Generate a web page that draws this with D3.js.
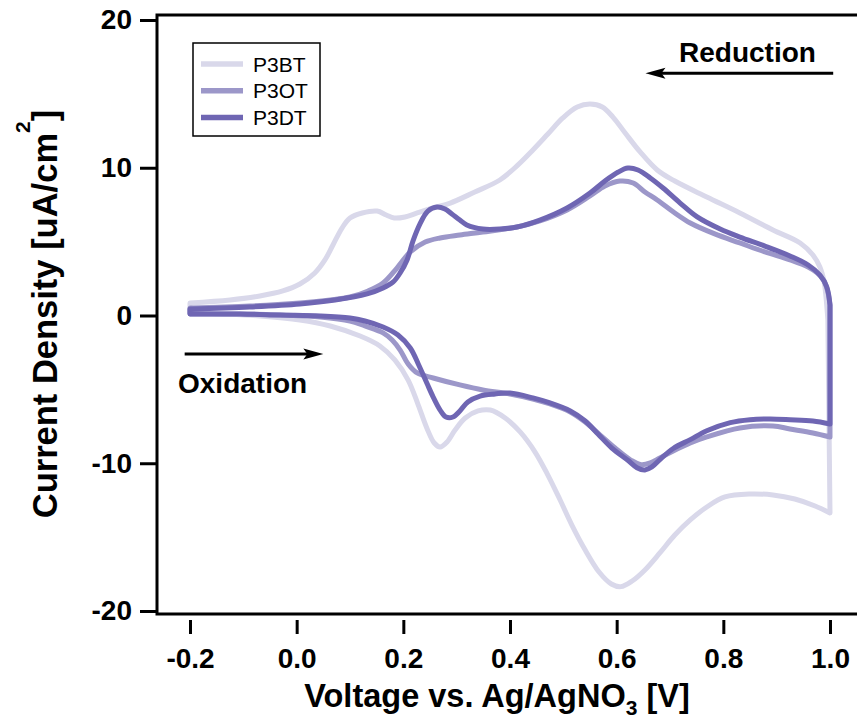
<!DOCTYPE html>
<html>
<head>
<meta charset="utf-8">
<script src="https://cdn.jsdelivr.net/npm/d3@7"></script>
<style>
  body { margin: 0; background: #fff; }
  svg { display: block; }
  text { font-family: "Liberation Sans", Arial, sans-serif; }
</style>
</head>
<body>
<svg id="chart" width="857" height="725"></svg>
<script>
// Cyclic voltammograms: current density [uA/cm^2] against voltage [V vs Ag/AgNO3]
const seriesNames = ["P3BT", "P3OT", "P3DT"];
const seriesColors = ["#d9d8ea", "#9c97c9", "#6f66b3"];
const xTicks = [-0.2, 0.0, 0.2, 0.4, 0.6, 0.8, 1.0];
const yTicks = [-20, -10, 0, 10, 20];

// Each scan: forward sweep (-0.2 -> 1.0 V) then reverse sweep (1.0 -> -0.2 V), as [V, I]
const p3btForward = [
  [-0.2, 0.85], [-0.125, 1.05], [-0.069, 1.32], [-0.026, 1.66], [0.006, 2.13], [0.034, 2.88],
  [0.053, 3.76], [0.068, 4.77], [0.085, 5.92], [0.1, 6.60], [0.123, 6.94], [0.151, 7.07],
  [0.168, 6.80], [0.183, 6.60], [0.203, 6.67], [0.226, 6.94], [0.256, 7.28], [0.288, 7.61],
  [0.334, 8.36], [0.381, 9.17], [0.415, 10.19], [0.443, 11.20], [0.471, 12.28], [0.499, 13.37],
  [0.526, 14.11], [0.55, 14.31], [0.573, 14.11], [0.593, 13.43], [0.616, 12.35], [0.644, 11.07],
  [0.676, 9.85], [0.709, 9.10], [0.769, 8.02], [0.831, 6.94], [0.893, 5.79], [0.944, 4.91],
  [0.968, 4.09], [0.981, 3.28], [0.989, 2.27], [0.993, 1.05], [0.996, -0.30]
];
const p3btReverse = [
  [1.0, -13.37], [0.972, -12.89], [0.934, -12.42], [0.893, -12.15], [0.85, -12.08], [0.803, -12.28],
  [0.769, -12.96], [0.738, -13.84], [0.709, -14.86], [0.681, -16.07], [0.653, -17.22], [0.629, -17.97],
  [0.608, -18.35], [0.59, -18.17], [0.567, -17.36], [0.541, -15.87], [0.516, -14.18], [0.494, -12.49],
  [0.471, -10.80], [0.447, -9.24], [0.419, -7.88], [0.391, -6.94], [0.363, -6.40], [0.34, -6.46],
  [0.316, -6.94], [0.297, -7.75], [0.282, -8.56], [0.269, -8.90], [0.258, -8.63], [0.244, -7.61],
  [0.228, -6.06], [0.209, -4.37], [0.184, -3.01], [0.156, -2.06], [0.119, -1.39], [0.063, -0.71],
  [0.006, -0.30], [-0.069, -0.03], [-0.144, 0.10], [-0.2, 0.17]
];

const p3otForward = [
  [-0.2, 0.51], [-0.088, 0.64], [0.006, 0.85], [0.063, 1.05], [0.1, 1.25], [0.134, 1.66],
  [0.162, 2.20], [0.188, 3.21], [0.213, 4.30], [0.241, 4.97], [0.269, 5.25], [0.306, 5.45],
  [0.349, 5.65], [0.413, 5.99], [0.456, 6.40], [0.507, 7.14], [0.55, 8.09], [0.578, 8.76],
  [0.606, 9.10], [0.631, 8.97], [0.653, 8.36], [0.676, 7.82], [0.709, 6.94], [0.738, 6.26],
  [0.784, 5.52], [0.831, 4.91], [0.878, 4.30], [0.925, 3.76], [0.959, 3.28], [0.976, 2.88],
  [0.989, 2.34], [0.996, 1.59], [1.0, 0.71]
];
const p3otReverse = [
  [1.0, -8.22], [0.968, -7.95], [0.925, -7.68], [0.893, -7.48], [0.831, -7.61], [0.769, -8.22],
  [0.738, -8.63], [0.706, -9.17], [0.681, -9.64], [0.663, -9.98], [0.646, -10.1], [0.627, -9.8],
  [0.597, -8.97], [0.569, -8.09], [0.541, -7.21], [0.513, -6.53], [0.475, -5.99], [0.443, -5.65],
  [0.4, -5.31], [0.349, -5.04], [0.306, -4.70], [0.256, -4.23], [0.226, -3.89], [0.209, -3.28],
  [0.194, -2.34], [0.179, -1.66], [0.162, -1.18], [0.128, -0.71], [0.1, -0.37], [0.044, -0.10],
  [-0.031, 0.03], [-0.106, 0.10], [-0.2, 0.10]
];

const p3dtForward = [
  [-0.2, 0.44], [-0.088, 0.58], [0.006, 0.78], [0.072, 1.05], [0.132, 1.46], [0.162, 1.86],
  [0.181, 2.27], [0.194, 2.88], [0.207, 3.76], [0.218, 5.04], [0.231, 6.19], [0.246, 7.07],
  [0.263, 7.34], [0.278, 7.21], [0.291, 6.87], [0.306, 6.46], [0.319, 6.13], [0.349, 5.85],
  [0.381, 5.85], [0.413, 5.99], [0.456, 6.46], [0.507, 7.28], [0.55, 8.29], [0.578, 9.10],
  [0.603, 9.71], [0.621, 9.98], [0.64, 9.85], [0.663, 9.31], [0.687, 8.63], [0.719, 7.61],
  [0.751, 6.67], [0.794, 5.85], [0.831, 5.31], [0.878, 4.70], [0.925, 4.03], [0.959, 3.42],
  [0.981, 2.74], [0.994, 1.93], [1.0, 0.71]
];
const p3dtReverse = [
  [1.0, -7.34], [0.968, -7.14], [0.925, -7.05], [0.888, -7.0], [0.85, -7.05], [0.813, -7.25],
  [0.769, -7.8], [0.738, -8.4], [0.706, -9.0], [0.681, -9.75], [0.666, -10.25], [0.653, -10.45],
  [0.638, -10.3], [0.621, -9.8], [0.591, -8.97], [0.565, -8.02], [0.541, -7.14], [0.513, -6.46],
  [0.475, -5.92], [0.443, -5.58], [0.4, -5.25], [0.372, -5.31], [0.344, -5.45], [0.321, -5.85],
  [0.306, -6.46], [0.293, -6.87], [0.28, -6.87], [0.269, -6.40], [0.256, -5.52], [0.244, -4.57],
  [0.228, -3.28], [0.213, -2.20], [0.19, -1.32], [0.162, -0.78], [0.128, -0.37], [0.1, -0.17],
  [0.044, -0.03], [-0.031, 0.03], [-0.106, 0.10], [-0.2, 0.10]
];

const scans = [
  { name: seriesNames[0], color: seriesColors[0], forward: p3btForward, reverse: p3btReverse },
  { name: seriesNames[1], color: seriesColors[1], forward: p3otForward, reverse: p3otReverse },
  { name: seriesNames[2], color: seriesColors[2], forward: p3dtForward, reverse: p3dtReverse }
];

const svg = d3.select("#chart");
const x = d3.scaleLinear().domain([-0.2, 1.0]).range([190, 830]);
const y = d3.scaleLinear().domain([-20, 20]).range([611, 20]);

const frameLeft = 157, frameTop = 15, frameBottom = 614, frameRight = 857;

// Plot frame (left, top and bottom edges)
svg.append("path")
  .attr("d", `M${frameRight},${frameTop}H${frameLeft}V${frameBottom}H${frameRight}`)
  .attr("fill", "none").attr("stroke", "#000").attr("stroke-width", 3)
  .attr("stroke-linejoin", "miter");

// Left axis
const yAxis = svg.append("g")
  .attr("transform", `translate(${frameLeft},0)`)
  .call(d3.axisLeft(y).tickValues(yTicks).tickSize(17).tickPadding(8).tickFormat(d => String(d)));
yAxis.select(".domain").remove();
yAxis.selectAll(".tick line").attr("stroke", "#000").attr("stroke-width", 3);
yAxis.selectAll(".tick text")
  .attr("font-size", 28).attr("font-weight", "bold").attr("fill", "#000")
  .attr("font-family", "'Liberation Sans', Arial, sans-serif");

// Bottom axis, offset below the frame
const xAxis = svg.append("g")
  .attr("transform", `translate(0,620)`)
  .call(d3.axisBottom(x).tickValues(xTicks).tickSize(14).tickPadding(14).tickFormat(d => d.toFixed(1)));
xAxis.select(".domain").remove();
xAxis.selectAll(".tick line").attr("stroke", "#000").attr("stroke-width", 3);
xAxis.selectAll(".tick text")
  .attr("font-size", 28).attr("font-weight", "bold").attr("fill", "#000")
  .attr("font-family", "'Liberation Sans', Arial, sans-serif");

// Axis titles
const yTitle = svg.append("text")
  .attr("transform", "translate(57,314) rotate(-90)")
  .attr("text-anchor", "middle")
  .attr("font-size", 34.5).attr("font-weight", "bold").attr("fill", "#000");
yTitle.append("tspan").text("Current Density [uA/cm");
yTitle.append("tspan").attr("font-size", 21).attr("dy", -27).text("2");
yTitle.append("tspan").attr("dy", 27).text("]");

const xTitle = svg.append("text")
  .attr("x", 497).attr("y", 707)
  .attr("text-anchor", "middle")
  .attr("font-size", 32.5).attr("font-weight", "bold").attr("fill", "#000");
xTitle.append("tspan").text("Voltage vs. Ag/AgNO");
xTitle.append("tspan").attr("font-size", 21).attr("dy", 8).text("3");
xTitle.append("tspan").attr("dy", -8).text(" [V]");

// CV loops
const line = d3.line()
  .x(d => x(d[0]))
  .y(d => y(d[1]))
  .curve(d3.curveCatmullRom.alpha(0.5));

svg.append("g").selectAll("path.scan")
  .data(scans)
  .join("path")
  .attr("class", "scan")
  .attr("fill", "none")
  .attr("stroke", d => d.color)
  .attr("stroke-width", 5)
  .attr("stroke-linejoin", "round")
  .attr("stroke-linecap", "round")
  .attr("d", d => line(d.forward) + "L" + line(d.reverse).slice(1) + "Z");

// Legend
const legend = svg.append("g");
legend.append("rect")
  .attr("x", 193).attr("y", 43).attr("width", 127).attr("height", 93)
  .attr("fill", "#fff").attr("stroke", "#000").attr("stroke-width", 1.5);
const rows = legend.selectAll("g.row").data(scans).join("g")
  .attr("class", "row")
  .attr("transform", (d, i) => `translate(0,${64 + i * 26.7})`);
rows.append("line")
  .attr("x1", 201).attr("x2", 243).attr("y1", 0).attr("y2", 0)
  .attr("stroke", d => d.color).attr("stroke-width", 5.5);
rows.append("text")
  .attr("x", 253).attr("y", 7.5)
  .attr("font-size", 21).attr("fill", "#000")
  .text(d => d.name);

// Sweep direction annotations
function arrow(x1, x2, yy) {
  const dir = Math.sign(x2 - x1);
  const g = svg.append("g");
  g.append("line")
    .attr("x1", x1).attr("x2", x2 - dir * 12).attr("y1", yy).attr("y2", yy)
    .attr("stroke", "#000").attr("stroke-width", 3);
  g.append("path")
    .attr("d", `M${x2},${yy}L${x2 - dir * 20},${yy - 5.5}L${x2 - dir * 16},${yy}L${x2 - dir * 20},${yy + 5.5}Z`)
    .attr("fill", "#000");
}
arrow(x(-0.21), x(0.05), y(-2.6));
arrow(x(1.006), x(0.654), y(16.4));

svg.append("text")
  .attr("x", 178).attr("y", 393)
  .attr("font-size", 28).attr("font-weight", "bold").attr("fill", "#000")
  .text("Oxidation");
svg.append("text")
  .attr("x", 679).attr("y", 62)
  .attr("font-size", 28).attr("font-weight", "bold").attr("fill", "#000")
  .text("Reduction");
</script>
</body>
</html>
